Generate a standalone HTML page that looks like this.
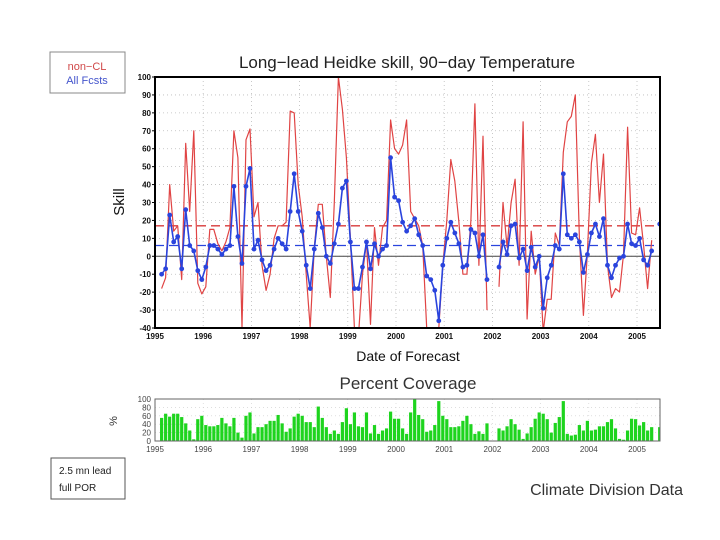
<!DOCTYPE html>
<html><head><meta charset="utf-8"><style>
html,body{margin:0;padding:0;background:#fff;}
svg{display:block;font-family:"Liberation Sans",sans-serif;}
</style></head><body>
<svg id="chart" width="720" height="540" viewBox="0 0 720 540">
  <defs><clipPath id="clipMain"><rect x="155" y="77" width="505" height="251"/></clipPath></defs>
  <rect x="50" y="52" width="75" height="41" fill="#fff" stroke="#888" stroke-width="1"/>
  <text x="87" y="70" text-anchor="middle" font-size="11" fill="#d04848">non−CL</text>
  <text x="87" y="84" text-anchor="middle" font-size="11" fill="#4455cc">All Fcsts</text>
  <text x="407" y="68" text-anchor="middle" font-size="17" fill="#222">Long−lead Heidke skill, 90−day Temperature</text>
  <text x="124" y="202" text-anchor="middle" font-size="15" fill="#111" transform="rotate(-90 124 202)">Skill</text>
  <text x="408" y="361" text-anchor="middle" font-size="14" fill="#111">Date of Forecast</text>
  <text x="408" y="389" text-anchor="middle" font-size="17" fill="#333">Percent Coverage</text>
  <text x="117" y="421" text-anchor="middle" font-size="11" fill="#333" transform="rotate(-90 117 421)">%</text>
  <rect x="51" y="458" width="74" height="41" fill="#fff" stroke="#555" stroke-width="1"/>
  <text x="59" y="474" font-size="10" fill="#222">2.5 mn lead</text>
  <text x="59" y="491" font-size="10" fill="#222">full POR</text>
  <text x="683" y="495" text-anchor="end" font-size="16" fill="#333">Climate Division Data</text>
  <g id="main"></g>
  <g id="cov"></g>
</svg>
<script>
const years = ["1995","1996","1997","1998","1999","2000","2001","2002","2003","2004","2005"];
const yTicks = [-40,-30,-20,-10,0,10,20,30,40,50,60,70,80,90,100];
const covTicks = [0,20,40,60,80,100];
const allFcsts = [-10,-7,23,8,11,-7,26,6,3,-8,-13,-6,6,6,4,1,4,6,39,11,-4,39,49,4,9,-2,-8,-5,4,10,7,4,25,46,25,14,-5,-18,4,24,16,
 0,-4,7,18,38,42,8,-18,-18,-6,8,-7,7,0,4,6,55,33,31,19,14,17,21,12,6,-11,-13,-19,-36,-5,10,19,13,7,-6,-5,15,13,0,12,-13,
 null,null,
 -6,8,1,17,18,-1,4,-8,5,-6,0,-29,-12,-5,6,4,46,12,10,12,8,-9,1,13,18,11,21,-5,-12,-5,-1,0,18,7,6,10,-2,-5,3,null,18];
const nonCL = [-18,-12,40,14,17,-13,63,25,70,-15,-21,-17,15,15,7,3,8,16,70,55,-40,65,71,22,30,-5,-19,-10,10,17,17,19,81,80,40,22,-10,-40,5,29,29,
 0,-23,30,100,82,55,10,-40,-45,-10,8,-38,16,-5,16,20,76,60,57,62,76,25,21,17,6,-40,-45,-50,-40,-5,20,54,42,19,-10,-10,20,85,-5,67,-30,
 null,null,
 -17,30,5,30,43,-5,75,-35,14,-10,0,-42,-24,-24,13,6,58,75,78,90,10,-33,2,52,68,30,57,-5,-23,-18,-20,1,72,13,12,27,6,-18,9,null,18];
const coverage = [55,65,58,65,65,57,42,25,4,52,60,38,35,35,38,55,42,35,55,20,8,60,68,18,33,33,40,48,48,62,42,22,30,58,65,60,45,45,33,82,55,33,17,25,17,45,78,40,68,35,33,68,18,38,17,25,30,70,53,53,30,17,68,100,62,52,22,25,38,95,60,52,33,33,35,48,60,40,17,23,17,42,0,0,30,25,35,52,40,27,5,18,33,53,68,65,52,20,43,57,95,17,13,15,38,25,48,25,27,35,35,45,52,30,5,3,25,53,52,37,45,25,33,0,33];
const meanNonCL = [17];
const meanAll = [6];

const NS="http://www.w3.org/2000/svg";
const L=155,R=660,T=77,B=328, yearW=48.2, monthW=yearW/12, startMonths=1.65;
const xYear = k => L + k*yearW;
const xOf = i => L + (startMonths+i)*monthW;
const yOf = v => T + (100-v)*(B-T)/140;
const CT=399, CB=441;
const yc = v => CB - v*(CB-CT)/100;
function mk(tag, attrs, parent){const e=document.createElementNS(NS,tag);for(const k in attrs)e.setAttribute(k,attrs[k]);parent.appendChild(e);return e;}
const main=document.getElementById('main'), cov=document.getElementById('cov');

// main grid
yTicks.forEach(v=>{
  if(v>-40&&v<100){const g=mk('line',{x1:L,x2:R,y1:yOf(v),y2:yOf(v),stroke:'#bbb','stroke-width':0.8,'stroke-dasharray':'1,3'},main);
  
  }
  const t=mk('text',{x:151,y:yOf(v)+3,'text-anchor':'end','font-size':8,'font-weight':'bold',fill:'#111'},main);
  t.textContent=v;
  
  
  const tk=mk('line',{x1:L-3,x2:L,y1:yOf(v),y2:yOf(v),stroke:'#000'},main);
  
  
});
years.forEach((y,k)=>{
  const x=xYear(k);
  if(k>0){const g=mk('line',{x1:x,x2:x,y1:T,y2:B,stroke:'#bbb','stroke-width':0.8,'stroke-dasharray':'1,3'},main);
  
  }
  const t=mk('text',{x:x,y:339,'text-anchor':'middle','font-size':8,'font-weight':'bold',fill:'#111'},main);
  t.textContent=y;
  
  
  const t2=mk('text',{x:x,y:452,'text-anchor':'middle','font-size':8,fill:'#444'},cov);
  t2.textContent=y;
  
  
  if(k>0){const g2=mk('line',{x1:x,x2:x,y1:CT,y2:CB,stroke:'#ccc','stroke-width':0.6,'stroke-dasharray':'1,3'},cov);
  
  }
});
const zero=mk('line',{x1:L,x2:R,y1:yOf(0),y2:yOf(0),stroke:'#444','stroke-width':1},main);



const plot=mk('g',{'clip-path':'url(#clipMain)'},main);
const mr=mk('line',{x1:L,x2:R,y1:yOf(meanNonCL[0]),y2:yOf(meanNonCL[0]),stroke:'#d83a3a','stroke-width':1.3,'stroke-dasharray':'9,5'},plot);


const mb=mk('line',{x1:L,x2:R,y1:yOf(meanAll[0]),y2:yOf(meanAll[0]),stroke:'#2a44dd','stroke-width':1.3,'stroke-dasharray':'9,5'},plot);



function pathFor(arr){let d='',pen=false;arr.forEach((v,i)=>{if(v===null){pen=false;return;}d+=(pen?'L':'M')+xOf(i).toFixed(1)+','+yOf(v).toFixed(1);pen=true;});return d;}
const rp=mk('path',{d:pathFor(nonCL),fill:'none',stroke:'#e04444','stroke-width':1.2,'stroke-linejoin':'round'},plot);


const bp=mk('path',{d:pathFor(allFcsts),fill:'none',stroke:'#2a44dd','stroke-width':1.6,'stroke-linejoin':'round'},plot);


allFcsts.forEach((v,i)=>{if(v===null)return;
  const c=mk('circle',{cx:xOf(i),cy:yOf(v),r:2.4,fill:'#2a44dd'},plot);
  
  
});
const fr=mk('rect',{x:L,y:T,width:R-L,height:B-T,fill:'none',stroke:'#000','stroke-width':2},main);



// coverage
covTicks.forEach(v=>{
  if(v>0&&v<100){const g=mk('line',{x1:L,x2:R,y1:yc(v),y2:yc(v),stroke:'#ccc','stroke-width':0.6,'stroke-dasharray':'1,3'},cov);
  
  }
  const t=mk('text',{x:151,y:yc(v)+3,'text-anchor':'end','font-size':8,fill:'#444'},cov);
  t.textContent=v;
  
  
});
coverage.forEach((v,i)=>{
  const x=xOf(i);
  if(x>R)return;
  const b=mk('rect',{x:x-1.6,y:yc(v),width:Math.min(3.2,R-(x-1.6)),height:CB-yc(v),fill:'#1ed41e'},cov);
  
  
});
const cf=mk('rect',{x:L,y:CT,width:R-L,height:CB-CT,fill:'none',stroke:'#666','stroke-width':1},cov);


</script>
</body></html>
